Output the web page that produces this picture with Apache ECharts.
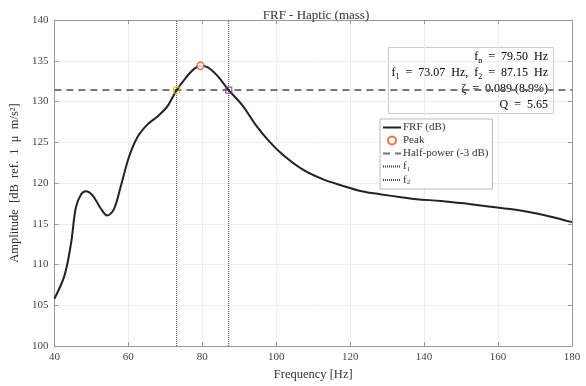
<!DOCTYPE html>
<html>
<head>
<meta charset="utf-8">
<script src="https://cdn.jsdelivr.net/npm/echarts@6/dist/echarts.min.js"></script>
<style>html,body{margin:0;padding:0;background:#fff;}#c{width:586px;height:386px;}</style>
</head>
<body>
<div id="c"></div>
<script>
const freqHz = [40, 42.7, 44.5, 45.8, 47.2, 48.5, 50.3, 52.5, 54.3, 56.1, 57.9, 60.1, 62.3, 65.0, 67.7, 70.4, 73.07, 75.7, 77.8, 79.5, 81.5, 84.0, 87.15, 90.9, 94.5, 98.1, 101.7, 107.0, 112.4, 117.7, 123.1, 128.5, 133.8, 138, 144.6, 152.6, 158.0, 163.3, 168.7, 174.0, 180];
const amplitudeDb = [105.8, 108.6, 112.6, 117.0, 118.6, 119.0, 118.5, 116.9, 116.0, 116.8, 119.5, 123.1, 125.5, 127.1, 128.1, 129.3, 131.4, 133.0, 134.0, 134.4, 134.2, 133.2, 131.4, 129.5, 127.1, 125.1, 123.5, 121.7, 120.5, 119.7, 119.0, 118.6, 118.25, 118.0, 117.8, 117.4, 117.1, 116.8, 116.4, 115.9, 115.2];
const peak = [79.5, 134.4];
const halfPower = 131.4;
const f1 = 73.07, f2 = 87.15;
const xTicks = [40, 60, 80, 100, 120, 140, 160, 180];
const yTicks = [100, 105, 110, 115, 120, 125, 130, 135, 140];
const annotFn = '79.50', annotF1 = '73.07', annotF2 = '87.15', annotZeta = '0.089 (8.9%)', annotQ = '5.65';

const FONT = '"Liberation Serif", "DejaVu Serif", serif';
const chart = echarts.init(document.getElementById('c'), null, {renderer: 'canvas'});
const frf = freqHz.map((f, i) => [f, amplitudeDb[i]]);
const axisCommon = {
  axisLine: {show: true, lineStyle: {color: '#999', width: 1}},
  axisTick: {show: true, inside: true, length: 4, lineStyle: {color: '#999'}},
};
const norm = {fontFamily: FONT, fontSize: 12, color: '#333', align: 'right', lineHeight: 16};
const sub = {fontFamily: FONT, fontSize: 8, color: '#333', align: 'right', lineHeight: 16, verticalAlign: 'bottom', padding: [7, 0, 0, 0]};
const annotText =
  '{n|f}{s|n}{n|  =  ' + annotFn + '  Hz}\n' +
  '{n|f}{s|1}{n|  =  ' + annotF1 + '  Hz,  f}{s|2}{n|  =  ' + annotF2 + '  Hz}\n' +
  '{n|ζ  =  ' + annotZeta + '}\n' +
  '{n|Q  =  ' + annotQ + '}';
const lineLegend = (name) => ({name: name, itemStyle: {opacity: 0}});
chart.setOption({
  animation: false,
  backgroundColor: '#fff',
  title: {text: 'FRF - Haptic (mass)', left: 311, top: 4, textAlign: 'center',
    textStyle: {fontFamily: FONT, fontSize: 13, fontWeight: 'normal', color: '#333'}},
  grid: {left: 50, right: 14, top: 20, bottom: 35},
  xAxis: [{
    type: 'value', min: 40, max: 180, interval: 20,
    name: 'Frequency [Hz]', nameLocation: 'middle', nameGap: 22,
    nameTextStyle: {fontFamily: FONT, fontSize: 12.5, color: '#333'},
    axisLabel: {fontFamily: FONT, fontSize: 11, color: '#444', margin: 6},
    splitLine: {show: true, lineStyle: {color: '#ededed', width: 1}},
    ...axisCommon
  }, {
    type: 'value', min: 40, max: 180, interval: 20, position: 'top',
    axisLabel: {show: false}, splitLine: {show: false}, ...axisCommon
  }],
  yAxis: [{
    type: 'value', min: 100, max: 140, interval: 5,
    name: 'Amplitude  [dB  ref.  1  μ  m/s²]', nameLocation: 'middle', nameGap: 31,
    nameTextStyle: {fontFamily: FONT, fontSize: 12.5, color: '#333'},
    axisLabel: {fontFamily: FONT, fontSize: 11, color: '#444', margin: 6},
    splitLine: {show: true, lineStyle: {color: '#ededed', width: 1}},
    ...axisCommon
  }, {
    type: 'value', min: 100, max: 140, interval: 5, position: 'right',
    axisLabel: {show: false}, splitLine: {show: false}, ...axisCommon
  }],
  legend: {
    orient: 'vertical', left: 380, top: 119, itemGap: 2, itemWidth: 18, itemHeight: 8,
    backgroundColor: '#fff', borderColor: '#bbb', borderWidth: 1, padding: [3, 4, 3, 2],
    data: [lineLegend('FRF (dB)'), {name: 'Peak', icon: 'circle'}, lineLegend('Half-power (-3 dB)'), lineLegend('f1'), lineLegend('f2')],
    formatter: function (n) {
      if (n === 'f1') return '{n|f}{s|1}';
      if (n === 'f2') return '{n|f}{s|2}';
      return '{n|' + n + '}';
    },
    textStyle: {fontFamily: FONT, fontSize: 11, color: '#333', padding: [0, 0, 0, -3],
      rich: {n: {fontFamily: FONT, fontSize: 11, color: '#333'}, s: {fontFamily: FONT, fontSize: 7, color: '#333', verticalAlign: 'bottom', padding: [5, 0, 0, 0]}}}
  },
  graphic: [{
    type: 'rect', left: 388, top: 47, shape: {width: 165, height: 66},
    style: {fill: 'rgba(255,255,255,0.9)', stroke: '#ccc', lineWidth: 1}, z: 0
  }, {
    type: 'text', right: 38, top: 50, z: 1,
    style: {text: annotText, rich: {n: norm, s: sub}}
  }],
  series: [{
    name: 'FRF (dB)', type: 'line', data: frf, smooth: 0.35, showSymbol: false, symbol: 'none',
    lineStyle: {color: '#222', width: 2}, itemStyle: {color: '#222'}, z: 5
  }, {
    name: 'Peak', type: 'scatter', data: [peak], symbol: 'circle', symbolSize: 7,
    itemStyle: {color: '#fff', borderColor: '#D95319', borderWidth: 1.5}, z: 8
  }, {
    name: 'Half-power (-3 dB)', type: 'line', data: [[40, halfPower], [180, halfPower]], symbol: 'none',
    lineStyle: {color: '#777', width: 2, type: [7, 5]}, itemStyle: {color: '#777'}, z: 4
  }, {
    name: 'f1', type: 'line', data: [[f1, 100], [f1, 140]], symbol: 'none',
    lineStyle: {color: '#444', width: 1, type: [1, 1]}, itemStyle: {color: '#444'}, z: 3
  }, {
    name: 'f2', type: 'line', data: [[f2, 100], [f2, 140]], symbol: 'none',
    lineStyle: {color: '#444', width: 1, type: [1, 1]}, itemStyle: {color: '#444'}, z: 3
  }, {
    name: 'f1pt', type: 'scatter', data: [[f1, halfPower]], symbol: 'rect', symbolSize: 6,
    itemStyle: {color: 'rgba(0,0,0,0)', borderColor: '#EDB120', borderWidth: 1.2}, z: 8
  }, {
    name: 'f2pt', type: 'scatter', data: [[f2, halfPower]], symbol: 'rect', symbolSize: 6,
    itemStyle: {color: 'rgba(0,0,0,0)', borderColor: '#7E2F8E', borderWidth: 1.2}, z: 8
  }]
});
</script>
</body>
</html>
